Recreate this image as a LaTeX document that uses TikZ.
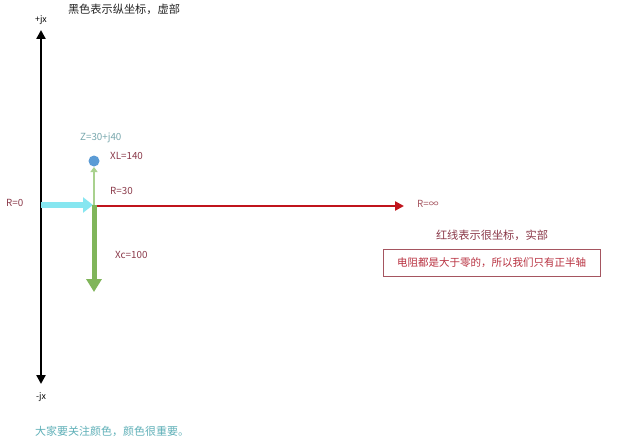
\documentclass[tikz,border=0pt]{standalone}
\usepackage{fontspec}
\setmainfont{Noto Sans CJK SC}
\usetikzlibrary{arrows.meta}
\definecolor{axisred}{HTML}{C0141C}
\definecolor{lblred}{HTML}{8B3A4A}
\definecolor{cyanarr}{HTML}{86E6F0}
\definecolor{greenarr}{HTML}{80B55A}
\definecolor{lightgreen}{HTML}{A9D18E}
\definecolor{dotblue}{HTML}{5B9BD5}
\definecolor{zteal}{HTML}{79A8AE}
\definecolor{boxred}{HTML}{A55560}
\definecolor{boxtext}{HTML}{B8303F}
\definecolor{notecol}{HTML}{5FB0B8}
\tikzset{
  lbl/.style={font=\fontsize{9.8pt}{11pt}\selectfont, inner sep=0pt, text=lblred},
  cn/.style={font=\fontsize{11.2pt}{13pt}\selectfont, inner sep=0pt},
}
\begin{document}
\begin{tikzpicture}[x=1pt,y=-1pt]
\fill[white] (0,0) rectangle (640,444);
\useasboundingbox (0,0) rectangle (640,444);
% coordinates
\coordinate (top) at (41,30);
\coordinate (bot) at (41,384);
\coordinate (O) at (41,205);
\coordinate (P) at (94,205);
\coordinate (Pc) at (93,205);
\coordinate (up) at (94,167);
\coordinate (down) at (94,292);
\coordinate (rs) at (97,206);
\coordinate (re) at (404,206);
% titles
\node[cn, text=black!85] (title) at (124,9) {黑色表示纵坐标，虚部};
\node[font=\fontsize{8.8pt}{10pt}\selectfont, inner sep=0pt] (pj) at (41,20) {+jx};
\node[font=\fontsize{8.8pt}{10pt}\selectfont, inner sep=0pt] (mj) at (41,397) {-jx};
% black axis
\draw[line width=2.6pt, {Triangle[length=9pt,width=9pt]}-{Triangle[length=9pt,width=9pt]}] (top) -- (bot);
% red axis
\draw[axisred, line width=2.4pt, -{Triangle[length=9pt,width=9pt]}] (rs) -- (re);
\node[lbl, anchor=west, text=boxred] (rinf) at (417,204) {R=∞};
% cyan arrow
\draw[cyanarr, line width=5.5pt, -{Triangle[length=10pt,width=15pt]}] (O) -- (Pc);
\node[lbl, anchor=west] (r0) at (6,203) {R=0};
% green arrows
\draw[greenarr, line width=5pt, -{Triangle[length=13pt,width=15pt]}] (P) -- (down);
\draw[lightgreen, line width=2.2pt, -{Triangle[length=5pt,width=7pt]}] (P) -- (up);
% dot
\node[circle, fill=dotblue, minimum size=11pt, inner sep=0pt] (Z) at (94,161) {};
\node[lbl, text=zteal, anchor=west] (zlbl) at (80,138) {Z=30+j40};
\node[lbl, anchor=west] (xl) at (110,156) {XL=140};
\node[lbl, anchor=west] (r30) at (110,191) {R=30};
\node[lbl, anchor=west] (xc) at (115,255) {Xc=100};
% right notes
\node[cn, text=lblred] (real) at (492,235) {红线表示很坐标，实部};
\node[draw=boxred, line width=0.8pt, minimum width=217pt, minimum height=27pt, inner sep=0pt] (box) at (491.5,262.5) {};
\node[cn, font=\fontsize{10.5pt}{12pt}\selectfont, text=boxtext] (boxt) at (box.center) {电阻都是大于零的，所以我们只有正半轴};
% bottom note
\node[cn, font=\fontsize{11pt}{13pt}\selectfont, text=notecol, anchor=west] (note) at (35,431) {大家要关注颜色，颜色很重要。};
\end{tikzpicture}
\end{document}
